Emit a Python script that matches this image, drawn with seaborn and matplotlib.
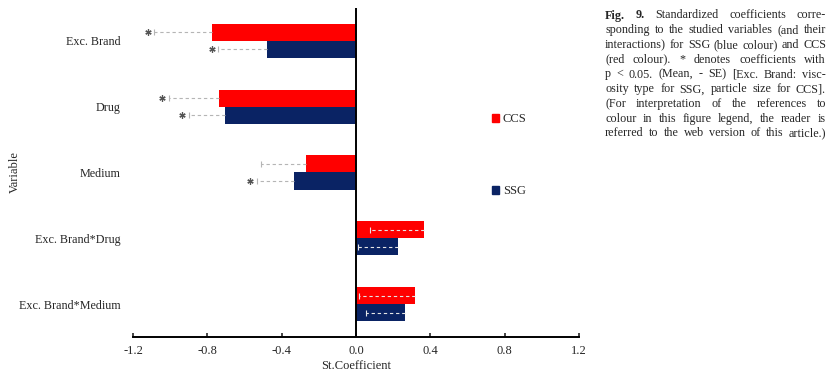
import pandas as pd
import seaborn as sns
import matplotlib.pyplot as plt
from matplotlib.patches import Patch

# standardized coefficients
variables = ["Exc. Brand", "Drug", "Medium", "Exc. Brand*Drug", "Exc. Brand*Medium"]
ccs_coef = [-0.775, -0.737, -0.27, 0.366, 0.318]
ssg_coef = [-0.48, -0.705, -0.334, 0.226, 0.264]
ccs_se = [0.31, 0.27, 0.24, 0.29, 0.30]
ssg_se = [0.26, 0.195, 0.20, 0.215, 0.21]
ccs_sig = [True, True, False, False, False]
ssg_sig = [True, True, True, False, False]
x_ticks = [-1.2, -0.8, -0.4, 0.0, 0.4, 0.8, 1.2]

caption_lines = [
    "Fig. 9. Standardized coefficients corre-",
    "sponding to the studied variables (and their",
    "interactions) for SSG (blue colour) and CCS",
    "(red colour). * denotes coefficients with",
    "p < 0.05. (Mean, - SE) [Exc. Brand: visc-",
    "osity type for SSG, particle size for CCS].",
    "(For interpretation of the references to",
    "colour in this figure legend, the reader is",
    "referred to the web version of this article.)",
]

sns.set_style("white")
plt.rcParams["font.family"] = ["Liberation Serif", "DejaVu Serif"]
plt.rcParams["axes.unicode_minus"] = False

colors = {"CCS": "#FF0000", "SSG": "#0A2364"}

df = pd.DataFrame({
    "Variable": variables * 2,
    "Coef": ccs_coef + ssg_coef,
    "Method": ["CCS"] * 5 + ["SSG"] * 5,
})

fig = plt.figure(figsize=(8.31, 3.76), dpi=100)
ax = fig.add_axes([133 / 831, 1 - 337 / 376, 446 / 831, 329 / 376])

sns.barplot(data=df, y="Variable", x="Coef", hue="Method", order=variables,
            hue_order=["CCS", "SSG"], palette=colors, orient="h", width=0.52,
            saturation=1, linewidth=0, legend=False, errorbar=None, ax=ax)

# error lines (Mean - SE), cap, and * for p < 0.05
for cont, coefs, ses, sigs in zip(ax.containers, [ccs_coef, ssg_coef],
                                  [ccs_se, ssg_se], [ccs_sig, ssg_sig]):
    for bar, m, se, sig in zip(cont, coefs, ses, sigs):
        y = bar.get_y() + bar.get_height() / 2
        end = m - se
        lc = "#b5b5b5" if m < 0 else "#e6e6e6"
        ax.plot([m, end], [y, y], ls=(0, (3, 2.5)), lw=0.8, color=lc, zorder=3)
        ax.plot(end, y, marker="|", ms=4, mew=0.8, color=lc, zorder=3)
        if sig:
            ax.plot(end - 0.035, y, marker=(6, 2, 0), ms=4.5, mew=0.9,
                    color="#555555", zorder=4)

ax.axvline(0, color="black", lw=1.4, zorder=5)
ax.set_xlim(-1.2, 1.2)
ax.set_ylim(4.5, -0.5)
ax.set_xticks(x_ticks)
ax.set_xticklabels([f"{t:.1f}" for t in x_ticks])
for s in ["left", "top", "right"]:
    ax.spines[s].set_visible(False)
ax.spines["bottom"].set_linewidth(1.4)
ax.spines["bottom"].set_color("black")
ax.tick_params(axis="x", direction="in", length=3, width=1.2, pad=6,
               labelsize=9, bottom=True)
ax.tick_params(axis="y", length=0, pad=9, labelsize=8.7)
ax.set_xlabel("St.Coefficient", fontsize=9)
ax.set_ylabel("Variable", fontsize=9)
ax.xaxis.set_label_coords(0.5, -0.07)
ax.yaxis.set_label_coords(-0.251, 0.5)

handles = [Patch(color=colors["CCS"], label="CCS"),
           Patch(color=colors["SSG"], label="SSG")]
ax.legend(handles=handles, loc="upper left", bbox_to_anchor=(0.79, 0.7),
          frameon=False, fontsize=9, handlelength=0.6, handleheight=0.6,
          handletextpad=0.3, labelspacing=4.8, borderpad=0)

# justified caption on the right
renderer = fig.canvas.get_renderer()
x0, x1 = 605 / 831, 826 / 831
fw = fig.get_figwidth() * fig.dpi
for i, line in enumerate(caption_lines):
    words = line.split()
    y = 1 - (18.5 + 14.75 * i) / 376
    texts = []
    for j, w in enumerate(words):
        bold = (i == 0 and j < 2)
        texts.append(fig.text(x0, y, w, fontsize=8.7, va="baseline", ha="left",
                              fontweight="bold" if bold else "normal"))
    widths = [t.get_window_extent(renderer).width / fw for t in texts]
    gap = (x1 - x0 - sum(widths)) / (len(words) - 1)
    x = x0
    for t, wdt in zip(texts, widths):
        t.set_x(x)
        x += wdt + gap

fig.savefig("out.png", dpi=100)
